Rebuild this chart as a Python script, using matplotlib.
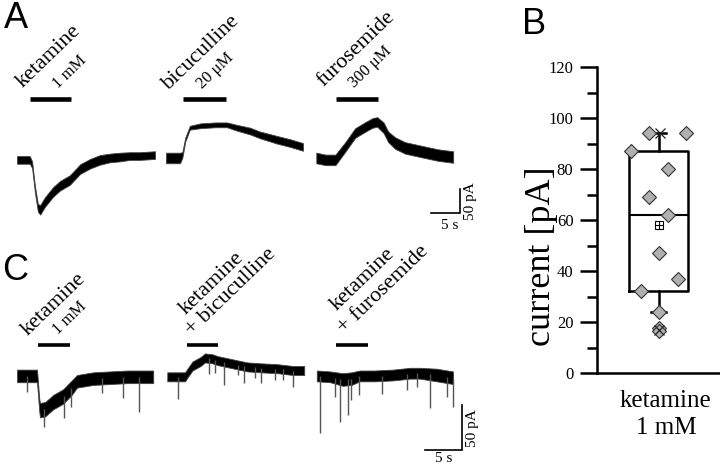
import numpy as np
import matplotlib
matplotlib.use("Agg")
import matplotlib.pyplot as plt

SERIF = "Liberation Serif"
SANS = "Liberation Sans"

# ---- Panel A traces: time (s), mean current (pA), noise half-width (pA)
ket_a_t = [0, 2.2, 2.6, 3.1, 3.6, 4.0, 4.8, 6.2, 7.4, 9.1, 10.9, 12.6, 14.3, 16.0, 17.8, 19.5, 21.2, 23.8]
ket_a_i = [0, 0, -10, -62, -100, -104, -88, -67, -54, -42, -19, -8, 0, 4, 6, 8, 8, 10]
ket_a_n = [8, 8, 7, 7, 8, 10, 10, 10, 10, 10, 10, 10, 10, 9, 9, 8, 8, 8]

bic_a_t = [0, 2.4, 2.8, 3.3, 4.1, 5.9, 8.5, 10.5, 12.2, 14.5, 16.2, 19.1, 21.4, 23.6]
bic_a_i = [4, 4, 10, 42, 67, 71, 73, 73, 67, 60, 52, 42, 35, 27]
bic_a_n = [11, 11, 6, 4, 4, 5, 5, 5, 6, 7, 7, 8, 8, 8]

fur_a_t = [0, 1.6, 3.3, 5.0, 6.7, 8.5, 9.7, 10.5, 11.6, 12.4, 13.6, 15.3, 18.3, 21.0, 23.6]
fur_a_i = [4, 0, 0, 27, 56, 69, 77, 79, 67, 48, 35, 25, 17, 10, 6]
fur_a_n = [11, 11, 11, 10, 10, 10, 10, 10, 11, 11, 12, 12, 12, 12, 12]

a_starts = [0, 25.7, 51.6]               # start of each sweep on the row time axis
a_drug_on = [2.2, 2.9, 3.4]              # application bars, relative to sweep start
a_drug_off = [9.3, 10.3, 10.7]
a_drug_names = ["ketamine", "bicuculline", "furosemide"]
a_drug_conc = ["1 mM", "20 \u03bcM", "300 \u03bcM"]

# ---- Panel C traces
ket_c_t = [0, 2.7, 3.0, 3.1, 3.8, 4.9, 6.2, 7.4, 8.1, 10.3, 12.6, 14.9, 18.4]
ket_c_i = [0, 0, -32, -38, -37, -29, -23, -13, -6, -3, -2, -1, -1]
ket_c_n = [7, 7, 7, 8, 8, 8, 8, 8, 7, 7, 7, 7, 7]

kbic_c_t = [0, 2.4, 2.8, 3.4, 4.5, 5.1, 6.1, 6.8, 8.5, 10.8, 12.6, 14.9, 17.0, 18.5]
kbic_c_i = [-1, -1, 4, 11, 16, 20, 19, 17, 14, 10, 9, 8, 6, 6]
kbic_c_n = [5, 5, 5, 5, 5, 5, 5, 5, 5, 5, 5, 5, 5, 5]

kfur_c_t = [0, 1.8, 3.5, 4.7, 5.8, 7.8, 10.3, 12.6, 13.9, 16.2, 18.4]
kfur_c_i = [0, -1, -4, -3, 0, 0, 1, 3, 3, 1, -2]
kfur_c_n = [6, 6, 7, 7, 6, 6, 6, 6, 6, 7, 7]

# spontaneous events (time in sweep, tip current)
ket_c_spk_t = [1.35, 3.65, 6.35, 7.3, 11.5, 14.3, 16.5]
ket_c_spk_i = [-18, -57, -47, -34, -19, -24, -40]
kbic_c_spk_t = [1.5, 5.7, 6.4, 7.7, 9.5, 10.4, 11.8, 12.7, 14.6, 15.7, 17.0]
kbic_c_spk_i = [-26, 2, 3, -10, 1, -8, -2, -8, -4, -4, -12]
kfur_c_spk_t = [0.4, 2.4, 3.2, 4.2, 4.6, 5.7, 8.8, 12.2, 13.5, 15.3, 17.6, 18.4]
kfur_c_spk_i = [-63, -23, -51, -43, -27, -21, -20, -16, -12, -36, -23, -34]

c_starts = [0, 20.3, 40.5]
c_drug_on = [2.8, 2.7, 2.6]
c_drug_off = [7.2, 6.9, 6.9]
c_line1 = ["ketamine", "ketamine", "ketamine"]
c_line2 = ["1 mM", "+ bicuculline", "+ furosemide"]

# ---- Panel B summary
box_q1, box_med, box_q3 = 32, 62, 87
whisk_lo, whisk_hi = 24, 94
mean_val = 58
pct_1, pct_99 = 17, 94
cell_vals = [87, 94, 94, 80, 69, 62, 47, 37, 32, 24, 17.5, 16.5]
cell_xoff = [-0.44, -0.15, 0.45, 0.15, -0.15, 0.15, 0.0, 0.31, -0.29, 0.0, 0.0, 0.0]


def draw_sweep(ax, t0, t, i, n):
    t = np.asarray(t) + t0
    i = np.asarray(i, float)
    n = np.asarray(n, float)
    ax.fill_between(t, i - n, i + n, color="black", lw=0.6, edgecolor="#444444")


def draw_events(ax, t0, t, i, spk_t, spk_i):
    base = np.interp(spk_t, t, i)
    ax.vlines(np.asarray(spk_t) + t0, base, spk_i, color="#555555", lw=1.0)


fig = plt.figure(figsize=(7.2, 4.66), dpi=100)
W, H = 720, 466

# ---------------- Panel A
ax_a = fig.add_axes([0, 1 - 230 / H, 470 / W, 230 / H])
ax_a.set_xlim(-2.93, 78.1)
ax_a.set_ylim(-146, 333)
ax_a.axis("off")

for t0, (t, i, n) in zip(a_starts, [(ket_a_t, ket_a_i, ket_a_n),
                                    (bic_a_t, bic_a_i, bic_a_n),
                                    (fur_a_t, fur_a_i, fur_a_n)]):
    draw_sweep(ax_a, t0, t, i, n)

for t0, on, off in zip(a_starts, a_drug_on, a_drug_off):
    ax_a.hlines(127, t0 + on, t0 + off, color="black", lw=3.3)

a_name_pos = [(1.0, 150), (26.2, 146), (52.8, 152)]
a_conc_pos = [(7.0, 148), (32.0, 148), (58.2, 150)]
for name, conc, p1, p2 in zip(a_drug_names, a_drug_conc, a_name_pos, a_conc_pos):
    ax_a.text(p1[0], p1[1], name, rotation=44, rotation_mode="anchor",
              ha="left", va="baseline", family=SERIF, fontsize=16)
    ax_a.text(p2[0], p2[1], conc, rotation=44, rotation_mode="anchor",
              ha="left", va="baseline", family=SERIF, fontsize=12)

# scale bar A: 5 s / 50 pA
ax_a.plot([71.4, 76.4, 76.4], [-110, -110, -60], color="black", lw=1.2,
          solid_joinstyle="miter", clip_on=False)
ax_a.text(74.6, -123, "5 s", ha="center", va="top", family=SERIF, fontsize=11)
ax_a.text(77.0, -85, "50 pA", rotation=90, ha="left", va="center",
          family=SERIF, fontsize=11, clip_on=False)

# ---------------- Panel C
ax_c = fig.add_axes([0, 0, 470 / W, 236 / H])
ax_c.set_xlim(-2.3, 61.2)
ax_c.set_ylim(-100, 162)
ax_c.axis("off")

c_sweeps = [(ket_c_t, ket_c_i, ket_c_n, ket_c_spk_t, ket_c_spk_i),
            (kbic_c_t, kbic_c_i, kbic_c_n, kbic_c_spk_t, kbic_c_spk_i),
            (kfur_c_t, kfur_c_i, kfur_c_n, kfur_c_spk_t, kfur_c_spk_i)]
for t0, (t, i, n, st, si) in zip(c_starts, c_sweeps):
    draw_events(ax_c, t0, t, i, st, si)
    draw_sweep(ax_c, t0, t, i, n)

for t0, on, off in zip(c_starts, c_drug_on, c_drug_off):
    ax_c.hlines(34, t0 + on, t0 + off, color="black", lw=2.6)

c_l1_pos = [(1.4, 44), (22.8, 68), (43.2, 72)]
c_l2_pos = [(5.6, 45), (23.7, 44), (44.2, 46)]
c_l2_size = [12, 16, 16]
for l1, l2, p1, p2, fs2 in zip(c_line1, c_line2, c_l1_pos, c_l2_pos, c_l2_size):
    ax_c.text(p1[0], p1[1], l1, rotation=44, rotation_mode="anchor",
              ha="left", va="baseline", family=SERIF, fontsize=16)
    ax_c.text(p2[0], p2[1], l2, rotation=44, rotation_mode="anchor",
              ha="left", va="baseline", family=SERIF, fontsize=fs2)

ax_c.plot([55.1, 60.1, 60.1], [-82, -82, -32], color="black", lw=1.2,
          solid_joinstyle="miter", clip_on=False)
ax_c.text(57.6, -85, "5 s", ha="center", va="top", family=SERIF, fontsize=11)
ax_c.text(60.6, -58, "50 pA", rotation=90, ha="left", va="center",
          family=SERIF, fontsize=11, clip_on=False)

# ---------------- Panel B
ax_b = fig.add_axes([597 / W, 1 - 373 / H, 123 / W, 306 / H])
stats = [dict(med=box_med, q1=box_q1, q3=box_q3, whislo=whisk_lo,
              whishi=whisk_hi, mean=mean_val, fliers=[], label="")]
lw = 1.8
ax_b.bxp(stats, positions=[1], widths=0.96, capwidths=0.26, showmeans=True,
         showfliers=False,
         boxprops=dict(lw=lw, color="black"),
         whiskerprops=dict(lw=lw, color="black"),
         capprops=dict(lw=lw, color="black"),
         medianprops=dict(lw=1.5, color="black"),
         meanprops=dict(marker="s", markerfacecolor="white",
                        markeredgecolor="black", markersize=6, markeredgewidth=0.8))
ax_b.plot(1, mean_val, marker="+", color="black", ms=6, mew=0.8, zorder=5)
ax_b.plot(1 + np.asarray(cell_xoff), cell_vals, ls="none", marker="D",
          ms=7, mfc="#b0b0b0", mec="#333333", mew=0.8, zorder=4, clip_on=False)
ax_b.plot([1.03, 1.0], [pct_99, pct_1], ls="none", marker="x", ms=7,
          color="#222222", mew=0.9, zorder=6)

ax_b.set_xlim(0, 2)
ax_b.set_ylim(0, 120)
ax_b.set_yticks(np.arange(0, 121, 20))
ax_b.set_yticks(np.arange(10, 120, 20), minor=True)
ax_b.tick_params(axis="y", which="major", length=12, width=lw, pad=5)
ax_b.tick_params(axis="y", which="minor", length=7, width=lw)
ax_b.set_xticks([])
for lab in ax_b.get_yticklabels():
    lab.set_family(SERIF)
    lab.set_fontsize(12)
for side in ["top", "right"]:
    ax_b.spines[side].set_visible(False)
for side in ["left", "bottom"]:
    ax_b.spines[side].set_linewidth(lw)
ax_b.set_ylabel("current [pA]", family=SERIF, fontsize=26)
ax_b.yaxis.set_label_coords(-0.455, 0.38)
ax_b.yaxis.label.set_va("center")
ax_b.set_xlabel("ketamine\n1 mM", family=SERIF, fontsize=18, linespacing=1.3)
ax_b.xaxis.set_label_coords(0.56, -0.055)
ax_b.xaxis.label.set_va("top")

# panel letters
fig.text(4 / W, 1 - 1 / H, "A", family=SANS, fontsize=26, va="top")
fig.text(522 / W, 1 - 7 / H, "B", family=SANS, fontsize=26, va="top")
fig.text(2 / W, 1 - 253 / H, "C", family=SANS, fontsize=26, va="top")

fig.savefig("out.png", dpi=100)
